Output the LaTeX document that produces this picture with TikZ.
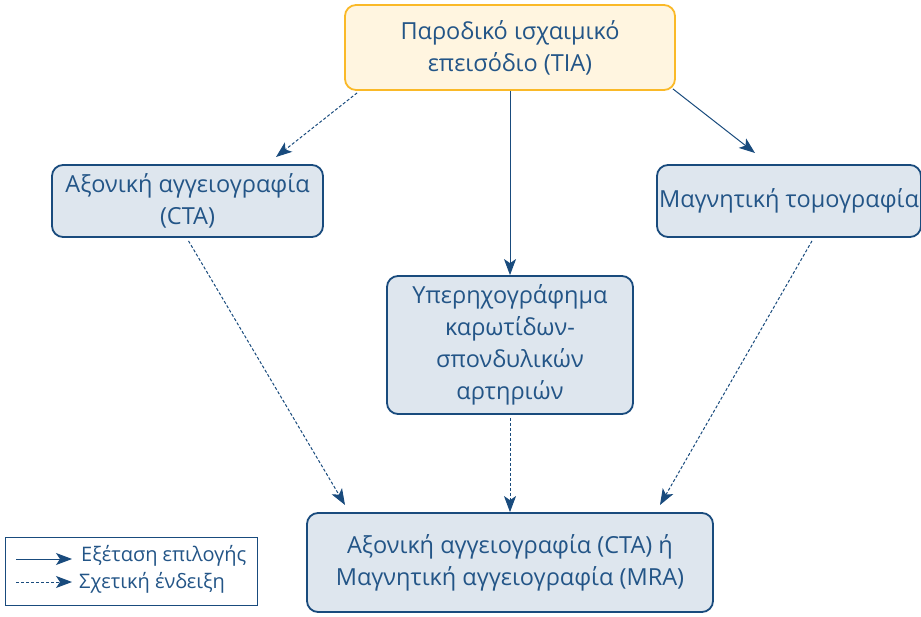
\documentclass[tikz,border=0pt]{standalone}
\usepackage{fontspec}
\setmainfont{Open Sans}
\usetikzlibrary{arrows.meta}
\definecolor{dblue}{RGB}{25,75,125}
\definecolor{tblue}{RGB}{35,85,135}
\definecolor{bfill}{RGB}{222,230,238}
\definecolor{yfill}{RGB}{255,245,224}
\definecolor{yborder}{RGB}{250,185,40}
\tikzset{
  box/.style={draw=dblue, line width=1.8pt, fill=bfill, rounded corners=11pt, text=tblue, align=center, font=\fontsize{23.5}{32}\selectfont, inner sep=0pt},
  topbox/.style={box, draw=yborder, fill=yfill},
  solidarr/.style={draw=dblue, line width=1pt, -{Stealth[length=16pt,width=12pt,inset=4pt]}},
  dasharr/.style={solidarr, dash pattern=on 3pt off 2pt},
  legtext/.style={anchor=west, text=tblue, font=\fontsize{20}{24}\selectfont, inner sep=0pt},
}
\begin{document}
\begin{tikzpicture}[x=1pt,y=-1pt]
\useasboundingbox (0,0) rectangle (921,617);
\node[topbox, minimum width=330pt, minimum height=85pt] (tia) at (510,47.5) {Παροδικό ισχαιμικό\\επεισόδιο (TIA)};
\node[box, minimum width=271pt, minimum height=72pt] (cta) at (187.5,201) {Αξονική αγγειογραφία\\(CTA)};
\node[box, minimum width=264pt, minimum height=72pt] (mri) at (789,201) {Μαγνητική τομογραφία};
\node[box, minimum width=246pt, minimum height=138pt] (us) at (510,345) {Υπερηχογράφημα\\καρωτίδων-\\σπονδυλικών\\αρτηριών};
\node[box, minimum width=406pt, minimum height=99pt] (res) at (510,562.5) {Αξονική αγγειογραφία (CTA) ή\\Μαγνητική αγγειογραφία (MRA)};
\node[draw=dblue, line width=1pt, minimum width=252pt, minimum height=68pt, inner sep=0pt] (leg) at (131,571) {};
\coordinate (l1a) at (16,559);
\coordinate (l1b) at (72,559);
\coordinate (l2a) at (16,582);
\coordinate (l2b) at (72,582);
\draw[solidarr] (l1a) -- (l1b);
\draw[dasharr] (l2a) -- (l2b);
\node[legtext] (t1) at (81,556) {Εξέταση επιλογής};
\node[legtext] (t2) at (79,583) {Σχετική ένδειξη};
\draw[dasharr] (tia.south west) ++(13,2) coordinate (a1) -- (276,157) coordinate (a1e);
\draw[solidarr] (tia.south) -- (us.north);
\draw[solidarr] (tia.south east) ++(-3,-2) -- (755,153);
\draw[dasharr] (cta.south) ++(1,3) -- (345,505);
\draw[dasharr] (us.south) ++(0,3) -- (res.north);
\draw[dasharr] (mri.south) ++(23,3) -- (660,505);
\end{tikzpicture}
\end{document}
